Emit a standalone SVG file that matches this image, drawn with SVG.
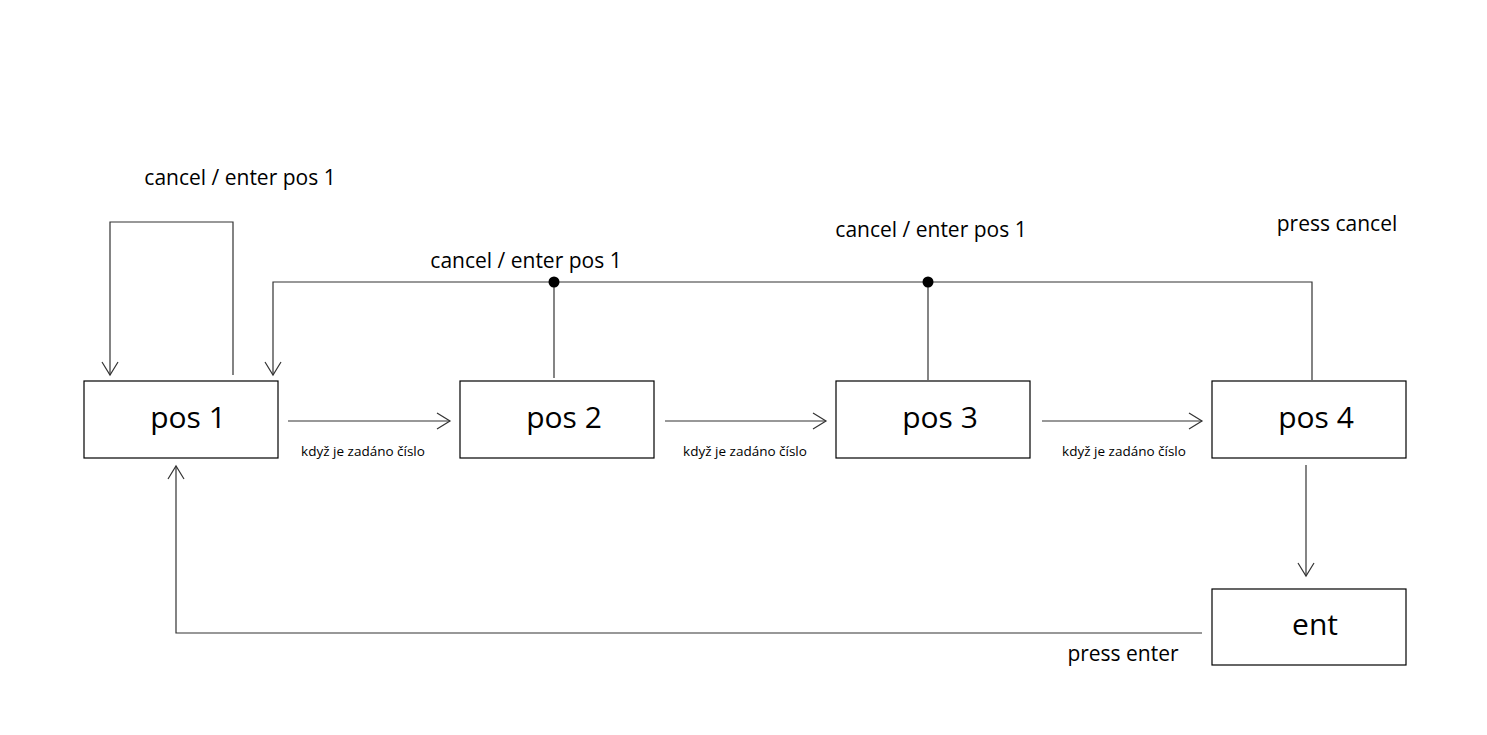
<svg xmlns="http://www.w3.org/2000/svg" width="1487" height="735" viewBox="0 0 1487 735">
<style>
.box{fill:#fff;stroke:#000;stroke-width:1.2}
.lbl{font-family:"Open Sans","Noto Sans",sans-serif;font-size:30px;fill:#000}
.t{font-family:"Open Sans","Noto Sans",sans-serif;font-size:21px;fill:#000}
.s{font-family:"Open Sans","Noto Sans",sans-serif;font-size:13.5px;fill:#000}
.ln{fill:none;stroke:#333;stroke-width:1.2}
</style>
<defs>
<marker id="ah" markerWidth="16" markerHeight="18" refX="14" refY="9" orient="auto" markerUnits="userSpaceOnUse">
<path d="M1,1 L14,9 L1,17" fill="none" stroke="#333" stroke-width="1.2"/>
</marker>
</defs>
<rect width="1487" height="735" fill="#fff"/>
<g id="connectors">
<path class="ln" d="M233,375 V222 H110 V375" marker-end="url(#ah)"/>
<path class="ln" d="M1312,380 V282 H273 V375" marker-end="url(#ah)"/>
<line class="ln" x1="554" y1="282" x2="554" y2="378"/>
<line class="ln" x1="928" y1="282" x2="928" y2="380"/>
<circle cx="554" cy="282" r="5.5" fill="#000"/>
<circle cx="928" cy="282" r="5.5" fill="#000"/>
<line class="ln" x1="288" y1="421" x2="450" y2="421" marker-end="url(#ah)"/>
<line class="ln" x1="665" y1="421" x2="826" y2="421" marker-end="url(#ah)"/>
<line class="ln" x1="1042" y1="421" x2="1202" y2="421" marker-end="url(#ah)"/>
<line class="ln" x1="1306" y1="465" x2="1306" y2="576" marker-end="url(#ah)"/>
<path class="ln" d="M1202,633 H176 V466" marker-end="url(#ah)"/>
<text class="t" x="240" y="185" text-anchor="middle">cancel / enter pos 1</text>
<text class="t" x="526" y="268" text-anchor="middle">cancel / enter pos 1</text>
<text class="t" x="931" y="237" text-anchor="middle">cancel / enter pos 1</text>
<text class="t" x="1337" y="231" text-anchor="middle">press cancel</text>
<text class="t" x="1123" y="661" text-anchor="middle">press enter</text>
<text class="s" x="363" y="456" text-anchor="middle">když je zadáno číslo</text>
<text class="s" x="745" y="456" text-anchor="middle">když je zadáno číslo</text>
<text class="s" x="1124" y="456" text-anchor="middle">když je zadáno číslo</text>
</g>
<g id="pos1"><rect class="box" x="84" y="381" width="194" height="77"/><text class="lbl" x="188" y="428" text-anchor="middle">pos 1</text></g>
<g id="pos2"><rect class="box" x="460" y="381" width="194" height="77"/><text class="lbl" x="564" y="428" text-anchor="middle">pos 2</text></g>
<g id="pos3"><rect class="box" x="836" y="381" width="194" height="77"/><text class="lbl" x="940" y="428" text-anchor="middle">pos 3</text></g>
<g id="pos4"><rect class="box" x="1212" y="381" width="194" height="77"/><text class="lbl" x="1316" y="428" text-anchor="middle">pos 4</text></g>
<g id="ent"><rect class="box" x="1212" y="589" width="194" height="76"/><text class="lbl" x="1315" y="635" text-anchor="middle">ent</text></g>
</svg>
